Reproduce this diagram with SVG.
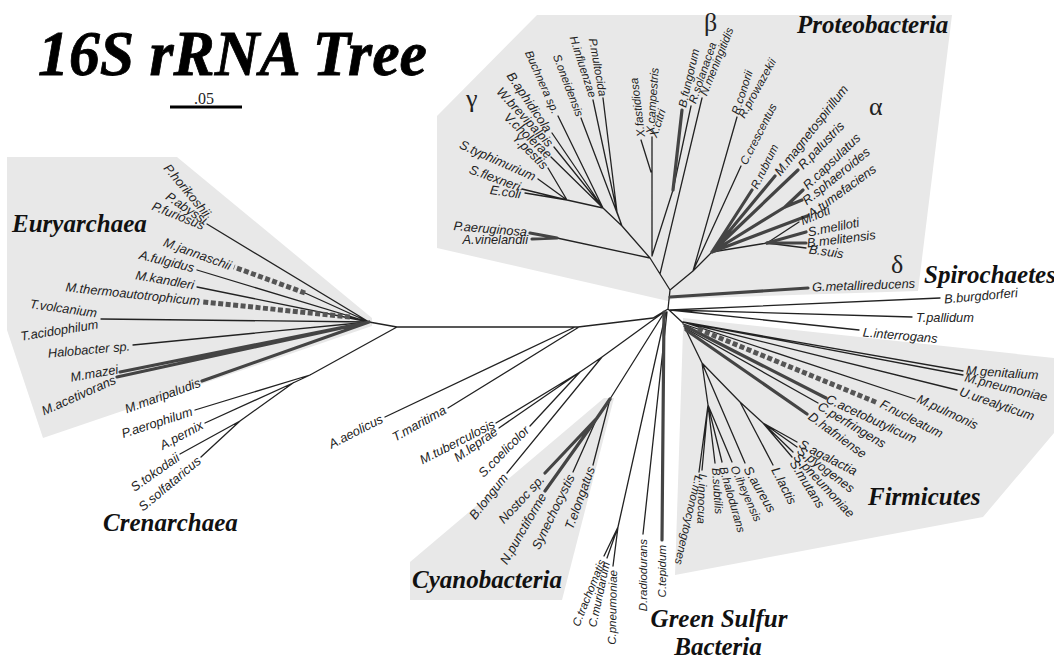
<svg xmlns="http://www.w3.org/2000/svg" width="1054" height="658" viewBox="0 0 1054 658">
<style>
.t{font-family:"Liberation Sans",Arial,sans-serif;font-style:italic;font-size:12.8px;fill:#222}
.v{font-size:11.5px}
.e{text-anchor:end}
.g{font-family:"Liberation Serif","Times New Roman",serif;font-style:italic;font-weight:bold;font-size:25px;fill:#111}
.gr{font-family:"Liberation Serif","Times New Roman",serif;font-size:26px;fill:#222}
.l{stroke:#222;stroke-width:1.3;fill:none;stroke-linecap:round}
.k{stroke:#444;stroke-width:3.2;fill:none;stroke-linecap:round}
.d{stroke:#555;stroke-width:5;fill:none;stroke-dasharray:5 2.5}
.sh{fill:#e8e8e8}
</style>
<rect width="1054" height="658" fill="#fff"/>
<g id="shading">
<polygon class="sh" points="7,157 177,157 372,318 372,326 43,438 7,330"/>
<polygon class="sh" points="537,15 952,15 918,291 672,299 668,301 437,248 437,116"/>
<polygon class="sh" points="683,318 1054,358 1054,433 983,517 675,575 683,330"/>
<polygon class="sh" points="410,600 410,562 604,398 614,398 562,600"/>
</g>
<g id="title">
<text x="38" y="75" font-family="Liberation Serif,Times New Roman,serif" font-style="italic" font-weight="bold" font-size="64" fill="#000" stroke="#000" stroke-width="0.8" textLength="389" lengthAdjust="spacingAndGlyphs">16S rRNA Tree</text>
</g>
<g id="scale">
<line x1="170" y1="107" x2="242" y2="107" stroke="#000" stroke-width="3"/>
<text x="204" y="104" text-anchor="middle" font-family="Liberation Serif,Times New Roman,serif" font-size="16" fill="#222">.05</text>
</g>
<g id="connectors">
<path class="l" d="M668,309 L653,318 L578,327 L397,327 M397,327 L369,322 M397,327 L310,375 M369,322 L207,224 M369,322 L305,293 M369,322 L197,270 M369,322 L197,287 M369,322 L350,317 M369,322 L133,345 M310,375 L195,410 M310,375 L293,383 M293,383 L205,423 M293,383 L240,421 M240,421 L180,454 M240,421 L201,457 M385,417 L575,327 M448,408 L579,327 M664,312 L602,357 M602,357 L580,372 M580,372 L496,423 M580,372 L499,428 M580,372 L530,426 M602,357 L507,473 M664,313 L610,399 M610,399 L593,465 M597,418 L573,472 M666,312 L618,527 M618,527 L604,556 M618,527 L607,558 M618,527 L613,566 M667,312 L643,534 M670,310 L940,298 M670,310 L912,317 M670,310 L859,330 M668,309 L683,323 M683,322 L963,371 M683,322 L963,375 M683,322 L957,390 M683,322 L915,399 M683,324 L698,329 M685,328 L702,363 M702,363 L708,405 M708,405 L702,470 M708,405 L699,472 M708,405 L715,463 M708,405 L722,462 M708,405 L732,462 M702,363 L745,463 M702,363 L740,402 M740,402 L773,465 M740,402 L763,423 M763,423 L797,442 M763,423 L797,447 M763,423 L793,452 M763,423 L792,457 M668,309 L670,290 M670,290 L650,258 M650,258 L557,238 M650,258 L622,226 M622,226 L617,212 M617,212 L593,100 M617,212 L603,98 M622,226 L581,118 M622,226 L603,208 M603,208 L558,116 M603,208 L552,133 M603,208 L554,147 M603,208 L551,157 M603,208 L567,200 M567,200 L548,168 M567,200 L538,179 M567,200 L522,189 M567,200 L525,193 M652,256 L652,137 M651,172 L641,140 M652,256 L673,190 M673,190 L691,106 M660,274 L702,98 M670,290 L693,271 M693,271 L737,117 M693,271 L741,166 M693,271 L712,252 M712,252 L767,243 M767,243 L799,222 M767,243 L806,248"/>
<path class="l" stroke-width="1.9" d="M369,322 L101,319 M685,328 L818,403"/>
<path class="k" d="M369,322 L120,372 M369,322 L117,377 M369,322 L202,381 M610,399 L597,418 M597,418 L545,473 M597,418 L545,491 M664,312 L662,540 M670,297 L808,288 M685,326 L826,398 M686,330 L807,414 M557,238 L530,233 M557,238 L532,239 M712,252 L752,190 M712,252 L775,176 M712,252 L798,170 M712,252 L785,207 M785,207 L803,190 M785,207 L802,200 M712,252 L807,216 M767,243 L806,243"/>
<path class="k" stroke-width="2.4" d="M673,190 L682,110 M767,243 L806,232"/>
<path class="d" d="M305,293 L234,267 M350,317 L203,302 M698,329 L878,403"/>
</g>
<g id="groups">
<text class="g" x="12" y="232">Euryarchaea</text>
<text class="g" x="103" y="531">Crenarchaea</text>
<text class="g" x="412" y="588">Cyanobacteria</text>
<text class="g" x="719" y="627" text-anchor="middle">Green Sulfur</text>
<text class="g" x="718" y="655" text-anchor="middle">Bacteria</text>
<text class="g" x="868" y="505">Firmicutes</text>
<text class="g" x="797" y="33">Proteobacteria</text>
<text class="g" x="924" y="283">Spirochaetes</text>
<text class="gr" x="466" y="107">γ</text>
<text class="gr" x="704" y="31" font-size="24">β</text>
<text class="gr" x="869" y="115">α</text>
<text class="gr" x="891" y="273" font-size="23">δ</text>
</g>
<g id="n-phorikoshii"><text class="t e" x="208" y="215" dy=".35em" transform="rotate(50 208 215)">P.horikoshii</text></g>
<g id="n-pabyssi"><text class="t e" x="206" y="221" dy=".35em" transform="rotate(34 206 221)">P.abyssi</text></g>
<g id="n-pfuriosus"><text class="t e" x="204" y="226" dy=".35em" transform="rotate(22 204 226)">P.furiosus</text></g>
<g id="n-mjannaschii"><text class="t e" x="231" y="266" dy=".35em" transform="rotate(20 231 266)">M.jannaschii</text></g>
<g id="n-afulgidus"><text class="t e" x="194" y="268" dy=".35em" transform="rotate(14 194 268)">A.fulgidus</text></g>
<g id="n-mkandleri"><text class="t e" x="194" y="285" dy=".35em" transform="rotate(10 194 285)">M.kandleri</text></g>
<g id="n-mthermo"><text class="t e" x="200" y="301" dy=".35em" transform="rotate(6 200 301)">M.thermoautotrophicum</text></g>
<g id="n-tvolcanium"><text class="t e" x="97" y="313" dy=".35em" transform="rotate(8 97 313)">T.volcanium</text></g>
<g id="n-tacidophilum"><text class="t e" x="98" y="324" dy=".35em" transform="rotate(-9 98 324)">T.acidophilum</text></g>
<g id="n-halobacter"><text class="t e" x="130" y="346" dy=".35em" transform="rotate(-5 130 346)">Halobacter sp.</text></g>
<g id="n-mmazei"><text class="t e" x="118" y="369" dy=".35em" transform="rotate(-10 118 369)">M.mazei</text></g>
<g id="n-macetivorans"><text class="t e" x="115" y="379" dy=".35em" transform="rotate(-24 115 379)">M.acetivorans</text></g>
<g id="n-mmaripaludis"><text class="t e" x="200" y="382" dy=".35em" transform="rotate(-20 200 382)">M.maripaludis</text></g>
<g id="n-paerophilum"><text class="t e" x="192" y="411" dy=".35em" transform="rotate(-18 192 411)">P.aerophilum</text></g>
<g id="n-apernix"><text class="t e" x="202" y="424" dy=".35em" transform="rotate(-28 202 424)">A.pernix</text></g>
<g id="n-stokodaii"><text class="t e" x="178" y="456" dy=".35em" transform="rotate(-35 178 456)">S.tokodaii</text></g>
<g id="n-ssolfataricus"><text class="t e" x="199" y="459" dy=".35em" transform="rotate(-40 199 459)">S.solfataricus</text></g>
<g id="n-aaeolicus"><text class="t e" x="382" y="418" dy=".35em" transform="rotate(-27 382 418)">A.aeolicus</text></g>
<g id="n-tmaritima"><text class="t e" x="445" y="409" dy=".35em" transform="rotate(-29 445 409)">T.maritima</text></g>
<g id="n-mtuberculosis"><text class="t e" x="494" y="423" dy=".35em" transform="rotate(-27 494 423)">M.tuberculosis</text></g>
<g id="n-mleprae"><text class="t e" x="496" y="430" dy=".35em" transform="rotate(-35 496 430)">M.leprae</text></g>
<g id="n-scoelicolor"><text class="t e" x="527" y="428" dy=".35em" transform="rotate(-45 527 428)">S.coelicolor</text></g>
<g id="n-blongum"><text class="t e" x="505" y="475" dy=".35em" transform="rotate(-52 505 475)">B.longum</text></g>
<g id="n-nostoc"><text class="t e" x="542" y="477" dy=".35em" transform="rotate(-47 542 477)">Nostoc sp.</text></g>
<g id="n-npunctiforme"><text class="t e" x="543" y="494" dy=".35em" transform="rotate(-60 543 494)">N.punctiforme</text></g>
<g id="n-synechocystis"><text class="t e" x="571" y="475" dy=".35em" transform="rotate(-64 571 475)">Synechocystis</text></g>
<g id="n-telongatus"><text class="t e" x="591" y="467" dy=".35em" transform="rotate(-70 591 467)">T.elongatus</text></g>
<g id="n-ctrachomatis"><text class="t v e" x="602" y="560" dy=".35em" transform="rotate(-68 602 560)">C.trachomatis</text></g>
<g id="n-cmuridarum"><text class="t v e" x="606" y="562" dy=".35em" transform="rotate(-78 606 562)">C.muridarum</text></g>
<g id="n-cpneumoniae"><text class="t v e" x="613" y="570" dy=".35em" transform="rotate(-89 613 570)">C.pneumoniae</text></g>
<g id="n-dradiodurans"><text class="t v e" x="643" y="539" dy=".35em" transform="rotate(-90 643 539)">D.radiodurans</text></g>
<g id="n-ctepidum"><text class="t v e" x="662" y="545" dy=".35em" transform="rotate(-90 662 545)">C.tepidum</text></g>
<g id="n-linnocua"><text class="t v" x="703" y="474" dy=".35em" transform="rotate(92 703 474)">L.innocua</text></g>
<g id="n-lmonocytogenes"><text class="t v" x="699" y="476" dy=".35em" transform="rotate(103 699 476)">L.monocytogenes</text></g>
<g id="n-bsubtilis"><text class="t v" x="716" y="468" dy=".35em" transform="rotate(86 716 468)">B.subtilis</text></g>
<g id="n-bhalodurans"><text class="t v" x="723" y="467" dy=".35em" transform="rotate(74 723 467)">B.halodurans</text></g>
<g id="n-oiheyensis"><text class="t v" x="734" y="466" dy=".35em" transform="rotate(66 734 466)">O.iheyensis</text></g>
<g id="n-saureus"><text class="t" x="747" y="467" dy=".35em" transform="rotate(60 747 467)">S.aureus</text></g>
<g id="n-llactis"><text class="t" x="775" y="468" dy=".35em" transform="rotate(63 775 468)">L.lactis</text></g>
<g id="n-smutans"><text class="t" x="793" y="461" dy=".35em" transform="rotate(58 793 461)">S.mutans</text></g>
<g id="n-spneumoniae"><text class="t" x="796" y="455" dy=".35em" transform="rotate(47 796 455)">S.pneumoniae</text></g>
<g id="n-spyogenes"><text class="t" x="799" y="449" dy=".35em" transform="rotate(37 799 449)">S.pyogenes</text></g>
<g id="n-sagalactia"><text class="t" x="800" y="443" dy=".35em" transform="rotate(27 800 443)">S.agalactia</text></g>
<g id="n-dhafniense"><text class="t" x="810" y="415" dy=".35em" transform="rotate(36 810 415)">D.hafniense</text></g>
<g id="n-cperfringens"><text class="t" x="819" y="405" dy=".35em" transform="rotate(31 819 405)">C.perfringens</text></g>
<g id="n-cacetobutylicum"><text class="t" x="827" y="398" dy=".35em" transform="rotate(25 827 398)">C.acetobutylicum</text></g>
<g id="n-fnucleatum"><text class="t" x="881" y="403" dy=".35em" transform="rotate(27 881 403)">F.nucleatum</text></g>
<g id="n-mpulmonis"><text class="t" x="918" y="398" dy=".35em" transform="rotate(25 918 398)">M.pulmonis</text></g>
<g id="n-uurealyticum"><text class="t" x="960" y="391" dy=".35em" transform="rotate(19 960 391)">U.urealyticum</text></g>
<g id="n-mpneumoniae"><text class="t" x="965" y="377" dy=".35em" transform="rotate(14 965 377)">M.pneumoniae</text></g>
<g id="n-mgenitalium"><text class="t" x="966" y="370" dy=".35em" transform="rotate(4 966 370)">M.genitalium</text></g>
<g id="n-bburgdorferi"><text class="t" x="944" y="299" dy=".35em" transform="rotate(-5 944 299)">B.burgdorferi</text></g>
<g id="n-tpallidum"><text class="t" x="916" y="318" dy=".35em">T.pallidum</text></g>
<g id="n-linterrogans"><text class="t" x="863" y="332" dy=".35em" transform="rotate(5 863 332)">L.interrogans</text></g>
<g id="n-gmetallireducens"><text class="t" x="812" y="287" dy=".35em" transform="rotate(-2 812 287)">G.metallireducens</text></g>
<g id="n-rconorii"><text class="t v" x="735" y="114" dy=".35em" transform="rotate(-72 735 114)">R.conorii</text></g>
<g id="n-rprowazekii"><text class="t v" x="741" y="117" dy=".35em" transform="rotate(-61 741 117)">R.prowazekii</text></g>
<g id="n-ccrescentus"><text class="t v" x="743" y="164" dy=".35em" transform="rotate(-63 743 164)">C.crescentus</text></g>
<g id="n-rrubrum"><text class="t v" x="754" y="188" dy=".35em" transform="rotate(-64 754 188)">R.rubrum</text></g>
<g id="n-mmagnetospirillum"><text class="t" x="777" y="174" dy=".35em" transform="rotate(-52 777 174)">M.magnetospirillum</text></g>
<g id="n-rpalustris"><text class="t" x="800" y="167" dy=".35em" transform="rotate(-46 800 167)">R.palustris</text></g>
<g id="n-rcapsulatus"><text class="t" x="805" y="187" dy=".35em" transform="rotate(-44 805 187)">R.capsulatus</text></g>
<g id="n-rsphaeroides"><text class="t" x="804" y="202" dy=".35em" transform="rotate(-39 804 202)">R.sphaeroides</text></g>
<g id="n-atumefaciens"><text class="t" x="809" y="215" dy=".35em" transform="rotate(-36 809 215)">A.tumefaciens</text></g>
<g id="n-mloti"><text class="t" x="801" y="221" dy=".35em" transform="rotate(-22 801 221)">M.loti</text></g>
<g id="n-smeliloti"><text class="t" x="808" y="232" dy=".35em" transform="rotate(-11 808 232)">S.meliloti</text></g>
<g id="n-bmelitensis"><text class="t" x="807" y="243" dy=".35em" transform="rotate(-7 807 243)">B.melitensis</text></g>
<g id="n-bsuis"><text class="t" x="809" y="249" dy=".35em" transform="rotate(8 809 249)">B.suis</text></g>
<g id="n-bfungorum"><text class="t v" x="682" y="107" dy=".35em" transform="rotate(-77 682 107)">B.fungorum</text></g>
<g id="n-rsolanacea"><text class="t v" x="692" y="103" dy=".35em" transform="rotate(-71 692 103)">R.solanacea</text></g>
<g id="n-nmeningitidis"><text class="t v" x="703" y="95" dy=".35em" transform="rotate(-68 703 95)">N.meningitidis</text></g>
<g id="n-xfastidiosa"><text class="t v" x="641" y="137" dy=".35em" transform="rotate(-97 641 137)">X.fastidiosa</text></g>
<g id="n-xcampestris"><text class="t v" x="650" y="134" dy=".35em" transform="rotate(-86 650 134)">X.campestris</text></g>
<g id="n-xcitri"><text class="t v" x="653" y="137" dy=".35em" transform="rotate(-72 653 137)">X.citri</text></g>
<g id="n-pmultocida"><text class="t v e" x="603" y="96" dy=".35em" transform="rotate(80 603 96)">P.multocida</text></g>
<g id="n-hinfluenzae"><text class="t v e" x="593" y="97" dy=".35em" transform="rotate(72 593 97)">H.influenzae</text></g>
<g id="n-soneidensis"><text class="t v e" x="580" y="116" dy=".35em" transform="rotate(69 580 116)">S.oneidensis</text></g>
<g id="n-buchnera"><text class="t v e" x="556" y="113" dy=".35em" transform="rotate(66 556 113)">Buchnera sp.</text></g>
<g id="n-baphidicola"><text class="t e" x="549" y="131" dy=".35em" transform="rotate(56 549 131)">B.aphidicola</text></g>
<g id="n-wbrevipalpis"><text class="t e" x="551" y="145" dy=".35em" transform="rotate(47 551 145)">W.brevipalpis</text></g>
<g id="n-vcholerae"><text class="t e" x="550" y="156" dy=".35em" transform="rotate(43 550 156)">V.cholerae</text></g>
<g id="n-ypestis"><text class="t e" x="546" y="167" dy=".35em" transform="rotate(45 546 167)">Y.pestis</text></g>
<g id="n-styphimurium"><text class="t e" x="535" y="177" dy=".35em" transform="rotate(24 535 177)">S.typhimurium</text></g>
<g id="n-sflexneri"><text class="t e" x="520" y="187" dy=".35em" transform="rotate(20 520 187)">S.flexneri</text></g>
<g id="n-ecoli"><text class="t e" x="521" y="194" dy=".35em" transform="rotate(8 521 194)">E.coli</text></g>
<g id="n-paeruginosa"><text class="t e" x="527" y="232" dy=".35em" transform="rotate(5 527 232)">P.aeruginosa</text></g>
<g id="n-avinelandii"><text class="t e" x="528" y="240" dy=".35em">A.vinelandii</text></g>
</svg>
